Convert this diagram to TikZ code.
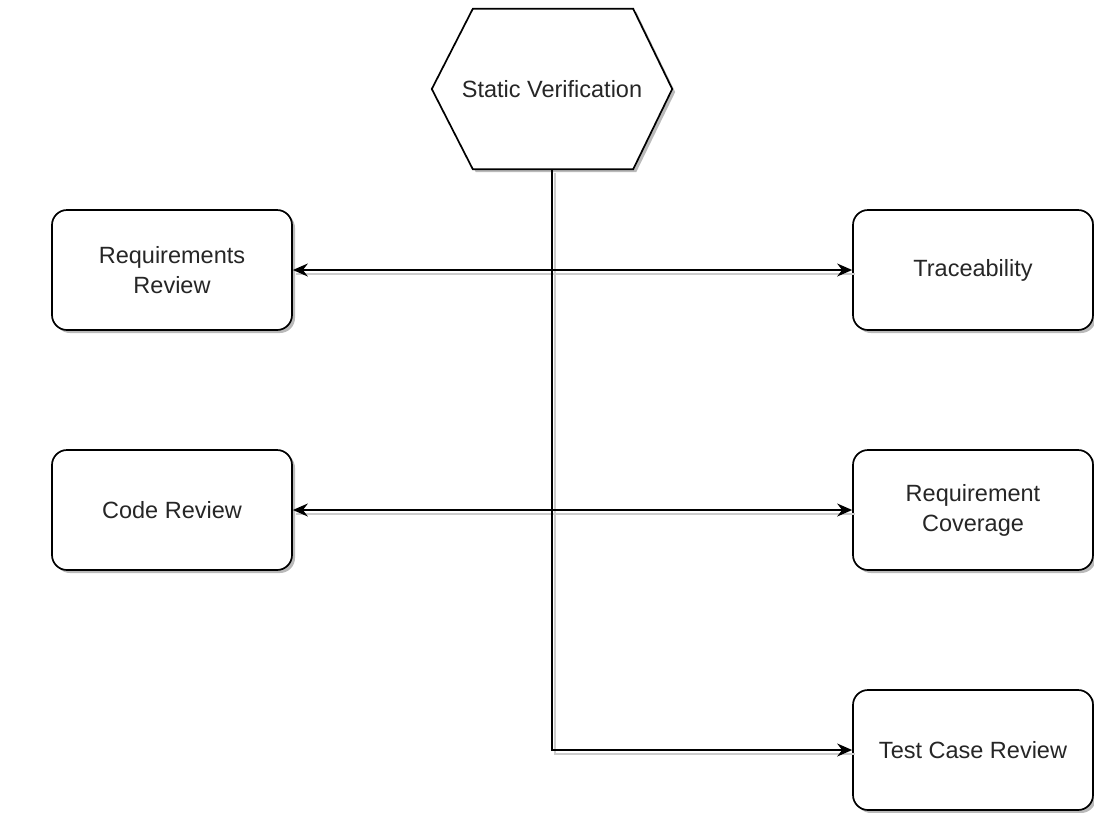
\documentclass[tikz,border=0pt]{standalone}
\usepackage{fontspec}
\setmainfont{Liberation Sans}
\usetikzlibrary{arrows.meta,shadows}
\begin{document}
\begin{tikzpicture}[x=1pt,y=-1pt,
  lbl/.style={font=\fontsize{23.5}{30}\selectfont, align=center, inner sep=0pt, text=black!85},
  sh/.style={drop shadow={shadow xshift=3pt, shadow yshift=-3pt, fill=black!45, opacity=0.6}},
  box/.style={lbl, draw=black, line width=1.7pt, fill=white, rounded corners=15pt,
    minimum width=240pt, minimum height=120pt, sh},
  hexa/.style={draw=black, line width=1.7pt, fill=white, line join=miter, sh},
  tip/.style={},
  conn/.style={draw=black, line width=1.8pt, -{Stealth[length=15pt,width=13pt,inset=5pt]}},
  connboth/.style={conn, {Stealth[length=15pt,width=13pt,inset=5pt]}-{Stealth[length=15pt,width=13pt,inset=5pt]}},
  ghost/.style={draw=black!20, line width=1.8pt, transform canvas={xshift=3pt,yshift=-4pt}}
]
\useasboundingbox (0,0) rectangle (1094,812);

% hexagon
\node[lbl, minimum width=240pt, minimum height=160pt] (sv) at (552,89) {};
\path[hexa] ([xshift=41pt]sv.north west) -- ([xshift=-39pt]sv.north east) -- (sv.east)
  -- ([xshift=-39pt]sv.south east) -- ([xshift=41pt]sv.south west) -- (sv.west) -- cycle;
\node[lbl] (svt) at (sv.center) {Static Verification};

% boxes
\node[box] (rr)  at (172,270) {Requirements\\Review};
\node[box] (tr)  at (973,270) {Traceability};
\node[box] (cr)  at (172,510) {Code Review};
\node[box] (rc)  at (973,510) {Requirement\\Coverage};
\node[box] (tcr) at (973,750) {Test Case Review};

% connector shadows
\draw[ghost] (rr.east) -- (tr.west);
\draw[ghost] (cr.east) -- (rc.west);
\draw[ghost] (sv.south) |- (tcr.west);

% connectors
\draw[connboth] (rr.east) -- (tr.west);
\draw[connboth] (cr.east) -- (rc.west);
\draw[conn] (sv.south) |- (tcr.west);
\end{tikzpicture}
\end{document}
